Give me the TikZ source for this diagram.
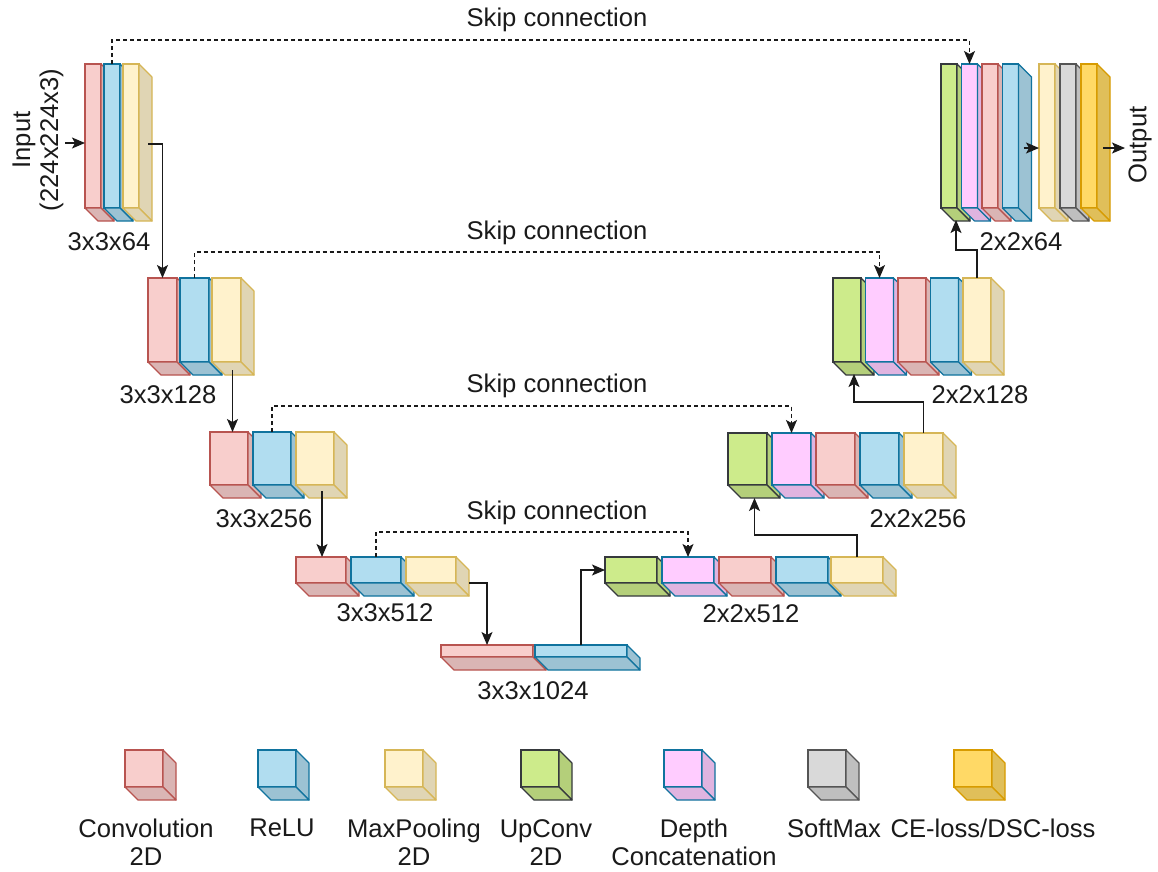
\documentclass[tikz,border=0pt]{standalone}
\usepackage{fontspec}
\setmainfont{Liberation Sans}
\usetikzlibrary{calc,arrows.meta}
\definecolor{convF}{HTML}{F8CECC}\definecolor{convL}{HTML}{B85450}
\definecolor{reluF}{HTML}{B1DDF0}\definecolor{reluL}{HTML}{10739E}
\definecolor{poolF}{HTML}{FFF2CC}\definecolor{poolL}{HTML}{D6B656}
\definecolor{upF}{HTML}{CDEB8B}\definecolor{upL}{HTML}{36393D}
\definecolor{catF}{HTML}{FFCCFF}\definecolor{catL}{HTML}{10739E}
\definecolor{smF}{HTML}{D9D9D9}\definecolor{smL}{HTML}{555555}
\definecolor{lossF}{HTML}{FFD966}\definecolor{lossL}{HTML}{D79B00}
\definecolor{txt}{HTML}{1A1A1A}
\newcommand{\dd}{13}
% #1 name, #2 x, #3 top y, #4 width, #5 height, #6 colour prefix
\newcommand{\cube}[6]{%
  \node[draw=#6L, fill=#6F, line width=1.2pt, minimum width=#4pt, minimum height=#5pt,
        inner sep=0pt, outer sep=0pt, anchor=north west] (#1) at (#2,#3) {};
  \filldraw[draw=#6L, fill=#6F!88!black, line width=1.2pt, line join=round]
    (#1.north east) -- ++(\dd,\dd) -- ($(#1.south east)+(\dd,\dd)$) -- (#1.south east) -- cycle;
  \filldraw[draw=#6L, fill=#6F!88!black, line width=1.2pt, line join=round]
    (#1.south west) -- (#1.south east) -- ++(\dd,\dd) -- ($(#1.south west)+(\dd,\dd)$) -- cycle;
}
\tikzset{
  lbl/.style={text=txt, font=\fontsize{25.6}{28}\selectfont, inner sep=0pt},
  arr/.style={draw=txt, line width=1.3pt, -{Stealth[length=13pt,width=11pt,inset=3pt]}},
  skip/.style={arr, dash pattern=on 4pt off 3pt},
}
\begin{document}
\begin{tikzpicture}[x=1pt,y=-1pt]
\useasboundingbox[fill=white] (0,0) rectangle (1158,871);
% encoder level 1
\cube{e1a}{85}{64}{16}{144}{conv}
\cube{e1b}{104}{64}{16}{144}{relu}
\cube{e1c}{123}{64}{16}{144}{pool}
% encoder level 2
\cube{e2a}{148}{278}{29}{84}{conv}
\cube{e2b}{180}{278}{29}{84}{relu}
\cube{e2c}{212}{278}{29}{84}{pool}
% encoder level 3
\cube{e3a}{210}{432}{38}{53}{conv}
\cube{e3b}{253}{432}{38}{53}{relu}
\cube{e3c}{296}{432}{38}{53}{pool}
% encoder level 4
\cube{e4a}{296}{557}{50}{26}{conv}
\cube{e4b}{351}{557}{50}{26}{relu}
\cube{e4c}{406}{557}{50}{26}{pool}
% bottleneck
\cube{bta}{441}{645}{92}{12}{conv}
\cube{btb}{535}{645}{92}{12}{relu}
% decoder level 4
\cube{d4a}{605}{557}{52}{26}{up}
\cube{d4b}{662}{557}{52}{26}{cat}
\cube{d4c}{719}{557}{52}{26}{conv}
\cube{d4d}{776}{557}{52}{26}{relu}
\cube{d4e}{831}{557}{52}{26}{pool}
% decoder level 3
\cube{d3a}{728}{433}{39}{52}{up}
\cube{d3b}{772}{433}{39}{52}{cat}
\cube{d3c}{816}{433}{39}{52}{conv}
\cube{d3d}{860}{433}{39}{52}{relu}
\cube{d3e}{904}{433}{39}{52}{pool}
% decoder level 2
\cube{d2a}{833}{278}{28}{84}{up}
\cube{d2b}{865.5}{278}{28}{84}{cat}
\cube{d2c}{898}{278}{28}{84}{conv}
\cube{d2d}{930.5}{278}{28}{84}{relu}
\cube{d2e}{963}{278}{28}{84}{pool}
% decoder level 1
\cube{d1a}{941}{64}{16}{144}{up}
\cube{d1b}{961.5}{64}{16}{144}{cat}
\cube{d1c}{982}{64}{16}{144}{conv}
\cube{d1d}{1002.5}{64}{16}{144}{relu}
\cube{d1e}{1039}{64}{16}{144}{pool}
\cube{d1f}{1060}{64}{16}{144}{sm}
\cube{d1g}{1081}{64}{16}{144}{loss}

% size labels
\node[lbl] (t1) at (109,242) {3x3x64};
\node[lbl] (t2) at (168,395) {3x3x128};
\node[lbl] (t3) at (264,519) {3x3x256};
\node[lbl] (t4) at (385,613) {3x3x512};
\node[lbl] (t5) at (533,691) {3x3x1024};
\node[lbl] (t6) at (751,614) {2x2x512};
\node[lbl] (t7) at (918,519) {2x2x256};
\node[lbl] (t8) at (980,395) {2x2x128};
\node[lbl] (t9) at (1021,242) {2x2x64};
\node[lbl, rotate=90, align=center] (inlbl) at (38,140) {Input\\(224x224x3)};
\node[lbl, rotate=90] (outlbl) at (1140,145) {Output};

% skip connections
\node[lbl] (s1) at (557,20) {Skip connection};
\node[lbl] (s2) at (557,233) {Skip connection};
\node[lbl] (s3) at (557,386) {Skip connection};
\node[lbl] (s4) at (557,513) {Skip connection};
\draw[skip] (e1b.north) -- ++(0,-24) -| (d1b.north);
\draw[skip] (e2b.north) -- ++(0,-26) -| (d2b.north);
\draw[skip] (e3b.north) -- ++(0,-26) -| (d3b.north);
\draw[skip] (e4b.north) -- ++(0,-25) -| (d4b.north);

% main path
\coordinate (inp) at (65,143);
\draw[arr] (inp) -- (inp -| e1a.west);
\draw[arr] ($(e1c.east)+(9,8)$) -| (e2a.north);
\coordinate (c2) at ($(e2c.south)+(6,8)$);
\draw[arr] (c2) -- (c2 |- e3a.north);
\coordinate (c3) at ($(e3c.south)+(7,6)$);
\draw[arr] (c3) -- (c3 |- e4a.north);
\draw[arr] ($(e4c.east)+(\dd,\dd)$) -| (bta.north);
\draw[arr] (btb.north) |- (d4a.west);
\draw[arr] (d4e.north) -- ++(0,-22) -| ($(d3a.south)+(7,13)$);
\draw[arr] (d3e.north) -- ++(0,-31) -| ($(d2a.south)+(7,12)$);
\draw[arr] (d2e.north) -- ++(0,-28) -| ($(d1a.south)+(7,12)$);
\draw[arr] ($(d1d.east)+(5,12)$) -- ($(d1e.west)+(0,12)$);
\coordinate (outp) at (1125,148);
\draw[arr] ($(d1g.east)+(6,12)$) -- (outp);

% legend
\cube{lg1}{125}{750}{38}{37}{conv}
\cube{lg2}{258}{750}{38}{37}{relu}
\cube{lg3}{385}{750}{38}{37}{pool}
\cube{lg4}{521}{750}{38}{37}{up}
\cube{lg5}{664}{750}{38}{37}{cat}
\cube{lg6}{808}{750}{38}{37}{sm}
\cube{lg7}{954}{750}{38}{37}{loss}
\node[lbl, anchor=north, align=center] (l1) at (146,819) {Convolution\\2D};
\node[lbl, anchor=north] (l2) at (282,819) {ReLU};
\node[lbl, anchor=north, align=center] (l3) at (414,819) {MaxPooling\\2D};
\node[lbl, anchor=north, align=center] (l4) at (546,819) {UpConv\\2D};
\node[lbl, anchor=north, align=center] (l5) at (694,819) {Depth\\Concatenation};
\node[lbl, anchor=north] (l6) at (834,819) {SoftMax};
\node[lbl, anchor=north] (l7) at (993,819) {CE-loss/DSC-loss};
\end{tikzpicture}
\end{document}
